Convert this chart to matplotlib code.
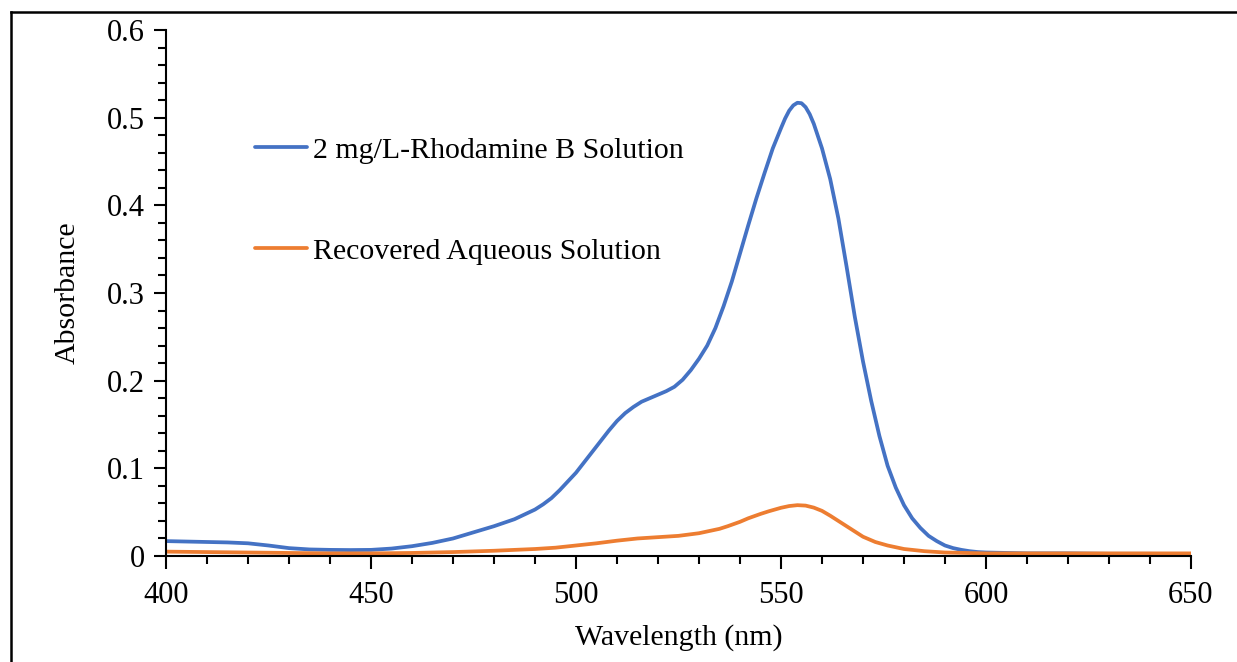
import matplotlib
matplotlib.use("Agg")
import matplotlib.pyplot as plt
from matplotlib.lines import Line2D
from matplotlib.ticker import MultipleLocator

# Wavelength (nm) and absorbance
wl_rhb = [400, 405, 410, 415, 420, 425, 430, 435, 440, 445, 450, 455, 460, 465, 470,
          475, 480, 485, 490, 492, 494, 496, 498, 500, 502, 504, 506, 508, 510, 512,
          514, 516, 518, 520, 522, 524, 526, 528, 530, 532, 534, 536, 538, 540, 542,
          544, 546, 548, 550, 551, 552, 553, 554, 555, 556, 557, 558, 560, 562, 564,
          566, 568, 570, 572, 574, 576, 578, 580, 582, 584, 586, 588, 590, 592, 594,
          596, 598, 600, 610, 620, 630, 640, 650]
abs_rhb = [0.017, 0.0165, 0.016, 0.0155, 0.0145, 0.012, 0.009, 0.0075, 0.007, 0.0068,
           0.007, 0.0085, 0.0112, 0.015, 0.020, 0.027, 0.034, 0.042, 0.053, 0.059,
           0.066, 0.075, 0.085, 0.095, 0.107, 0.119, 0.131, 0.143, 0.154, 0.163,
           0.170, 0.176, 0.180, 0.184, 0.188, 0.193, 0.201, 0.212, 0.225, 0.240,
           0.260, 0.285, 0.313, 0.345, 0.377, 0.408, 0.437, 0.465, 0.488, 0.499,
           0.508, 0.514, 0.517, 0.5165, 0.512, 0.504, 0.493, 0.465, 0.430, 0.385,
           0.330, 0.273, 0.222, 0.177, 0.137, 0.103, 0.078, 0.058, 0.043, 0.032,
           0.023, 0.017, 0.012, 0.009, 0.007, 0.0055, 0.0045, 0.004, 0.003, 0.003,
           0.0025, 0.0025, 0.002]

wl_rec = [400, 410, 420, 430, 440, 450, 460, 470, 480, 490, 495, 500, 505, 510, 515,
          520, 525, 530, 532, 535, 537, 540, 542, 545, 547, 550, 552, 554, 556, 558,
          560, 562, 564, 566, 568, 570, 573, 576, 580, 585, 590, 600, 650]
abs_rec = [0.005, 0.0045, 0.004, 0.0035, 0.003, 0.003, 0.0035, 0.0045, 0.006, 0.008,
           0.0095, 0.012, 0.0145, 0.0175, 0.020, 0.0215, 0.023, 0.026, 0.028, 0.031,
           0.034, 0.039, 0.043, 0.048, 0.051, 0.055, 0.057, 0.058, 0.0575, 0.0552,
           0.0515, 0.046, 0.040, 0.034, 0.028, 0.022, 0.016, 0.012, 0.008, 0.0055,
           0.004, 0.003, 0.003]

labels = ["2 mg/L-Rhodamine B Solution", "Recovered Aqueous Solution"]
y_ticks = [0, 0.1, 0.2, 0.3, 0.4, 0.5, 0.6]
y_tick_labels = ["0", "0.1", "0.2", "0.3", "0.4", "0.5", "0.6"]
x_ticks = [400, 450, 500, 550, 600, 650]

plt.rcParams["font.family"] = ["Liberation Serif", "DejaVu Serif"]

fig = plt.figure(figsize=(12.37, 6.62), dpi=100)
ax = fig.add_axes([0.1342, 0.1601, 0.8286, 0.7946])

ax.plot(wl_rhb, abs_rhb, color="#4472C4", lw=2.7, label=labels[0],
        solid_capstyle="round", solid_joinstyle="round")
ax.plot(wl_rec, abs_rec, color="#ED7D31", lw=2.7, label=labels[1],
        solid_capstyle="round", solid_joinstyle="round")

ax.set_xlim(400, 650)
ax.set_ylim(0, 0.6)
ax.set_xticks(x_ticks)
ax.set_yticks(y_ticks)
ax.set_yticklabels(y_tick_labels)
ax.xaxis.set_minor_locator(MultipleLocator(10))
ax.yaxis.set_minor_locator(MultipleLocator(0.02))

for s in ["top", "right"]:
    ax.spines[s].set_visible(False)
for s in ["left", "bottom"]:
    ax.spines[s].set_linewidth(1.5)
    ax.spines[s].set_color("black")

ax.tick_params(which="major", length=9, width=1.5, labelsize=22, colors="black")
ax.tick_params(which="minor", length=6, width=1.5)
ax.tick_params(axis="x", pad=9)
ax.tick_params(axis="y", pad=6)

ax.set_xlabel("Wavelength (nm)", fontsize=21.5, labelpad=10)
ax.set_ylabel("Absorbance", fontsize=21.5, labelpad=19)

ax.legend(loc="upper left", bbox_to_anchor=(0.087, 0.797), frameon=False,
          fontsize=21.5, handlelength=1.74, handletextpad=0.2, labelspacing=2.49,
          borderpad=0, borderaxespad=0)

# cropped outer border (top and left edges only)
fig.add_artist(Line2D([11 / 1237, 1], [1 - 12 / 662, 1 - 12 / 662], color="black", lw=1.8))
fig.add_artist(Line2D([11 / 1237, 11 / 1237], [0, 1 - 12 / 662], color="black", lw=1.8))

fig.savefig("out.png", dpi=100)
